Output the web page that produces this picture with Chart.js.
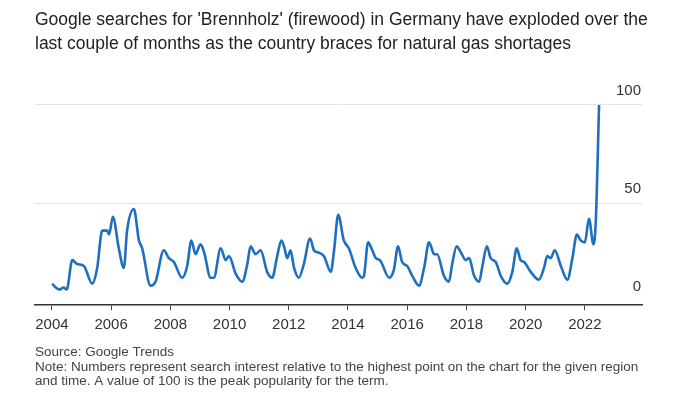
<!DOCTYPE html>
<html>
<head>
<meta charset="utf-8">
<script src="https://cdn.jsdelivr.net/npm/chart.js@4"></script>
<style>
  html, body { margin: 0; padding: 0; background: #ffffff; }
  canvas { display: block; }
</style>
</head>
<body>
<canvas id="c" width="676" height="397"></canvas>
<script>
// ---- data ----
const titleLines = [
  "Google searches for 'Brennholz' (firewood) in Germany have exploded over the",
  "last couple of months as the country braces for natural gas shortages"
];
const noteLines = [
  "Source: Google Trends",
  "Note: Numbers represent search interest relative to the highest point on the chart for the given region",
  "and time. A value of 100 is the peak popularity for the term."
];
// time (decimal years) of each read point
const dates = [
  2004.01, 2004.13, 2004.25, 2004.40, 2004.50, 2004.69, 2004.85, 2005.08, 2005.36, 2005.53,
  2005.70, 2005.87, 2005.93, 2006.06, 2006.26, 2006.43, 2006.54, 2006.77, 2006.94, 2007.05,
  2007.33, 2007.50, 2007.78, 2007.95, 2008.12, 2008.40, 2008.57, 2008.71, 2008.85, 2009.02,
  2009.14, 2009.36, 2009.47, 2009.70, 2009.87, 2009.98, 2010.21, 2010.43, 2010.60, 2010.71,
  2010.88, 2011.05, 2011.27, 2011.44, 2011.61, 2011.75, 2011.84, 2011.95, 2012.06, 2012.18,
  2012.34, 2012.51, 2012.72, 2012.85, 2012.96, 2013.19, 2013.42, 2013.53, 2013.67, 2013.86,
  2014.03, 2014.26, 2014.48, 2014.54, 2014.68, 2014.82, 2014.94, 2015.08, 2015.39, 2015.55,
  2015.69, 2015.83, 2016.00, 2016.17, 2016.40, 2016.57, 2016.74, 2016.91, 2017.01, 2017.24,
  2017.41, 2017.52, 2017.67, 2017.81, 2017.98, 2018.09, 2018.26, 2018.43, 2018.54, 2018.69,
  2018.82, 2018.99, 2019.16, 2019.38, 2019.55, 2019.70, 2019.83, 2019.95, 2020.17, 2020.45,
  2020.62, 2020.73, 2020.85, 2020.98, 2021.19, 2021.41, 2021.58, 2021.73, 2021.86, 2022.00,
  2022.14, 2022.29, 2022.37, 2022.48
];
// search interest (0-100)
const interest = [
  9, 7, 6, 7, 6, 21, 19, 18, 9, 17,
  36, 36, 34, 43, 27, 17, 36, 47, 31, 27,
  8, 10, 26, 22, 20, 12, 18, 31, 24, 29,
  25, 12, 12, 27, 21, 23, 14, 10, 19, 28,
  24, 26, 15, 12, 23, 31, 28, 22, 26, 17,
  12, 19, 32, 26, 25, 23, 15, 26, 44, 31,
  27, 17, 12, 13, 30, 26, 22, 21, 12, 16,
  28, 20, 18, 13, 8, 17, 30, 24, 24, 13,
  10, 19, 28, 25, 21, 22, 13, 10, 18, 28,
  22, 20, 13, 9, 15, 27, 21, 20, 15, 11,
  17, 23, 22, 26, 18, 11, 22, 34, 31, 30,
  42, 29, 41, 100
];
const yearTickStep = 2;
const interestTicks = [0, 50, 100];

const points = dates.map((d, i) => ({ x: d, y: interest[i] }));
const FONT = "'Liberation Sans', Arial, sans-serif";

new Chart(document.getElementById('c'), {
  type: 'line',
  data: {
    datasets: [{
      data: points,
      borderColor: '#1f6fc0',
      borderWidth: 2.6,
      pointRadius: 0,
      cubicInterpolationMode: 'monotone',
      fill: false
    }]
  },
  options: {
    responsive: false,
    animation: false,
    devicePixelRatio: 1,
    layout: { padding: { left: 35, right: 8, top: 0, bottom: 0 } },
    plugins: {
      legend: { display: false },
      tooltip: { enabled: false },
      title: {
        display: true,
        text: titleLines,
        align: 'start',
        color: '#222222',
        font: { family: FONT, size: 17.5, weight: 'normal', lineHeight: 1.37 },
        padding: { top: 8, bottom: 49 }
      },
      subtitle: {
        display: true,
        position: 'bottom',
        text: noteLines,
        align: 'start',
        color: '#444444',
        font: { family: FONT, size: 13.5, weight: 'normal', lineHeight: 1.08 },
        padding: { top: 5, bottom: 8 }
      }
    },
    scales: {
      x: {
        type: 'linear',
        min: 2003.43,
        max: 2023.93,
        border: { display: true, color: '#333333', width: 1.5 },
        grid: { drawOnChartArea: false, drawTicks: true, tickLength: 6, color: '#444444', lineWidth: 1 },
        ticks: {
          stepSize: yearTickStep,
          includeBounds: false,
          padding: 6,
          maxRotation: 0,
          color: '#333333',
          font: { family: FONT, size: 15 },
          callback: (v) => String(v)
        }
      },
      y: {
        position: 'right',
        min: -1.5,
        max: 100,
        afterFit: (s) => { s.width = 26; },
        afterBuildTicks: (s) => { s.ticks = interestTicks.map(v => ({ value: v })); },
        border: { display: false },
        grid: {
          drawTicks: false,
          color: (ctx) => (ctx.tick && ctx.tick.value === 0) ? 'rgba(0,0,0,0)' : '#e3e3e3',
          lineWidth: 1
        },
        ticks: {
          mirror: true,
          padding: -1,
          labelOffset: -14,
          color: '#333333',
          font: { family: FONT, size: 15 },
          callback: (v) => String(v)
        }
      }
    }
  }
});
</script>
</body>
</html>
